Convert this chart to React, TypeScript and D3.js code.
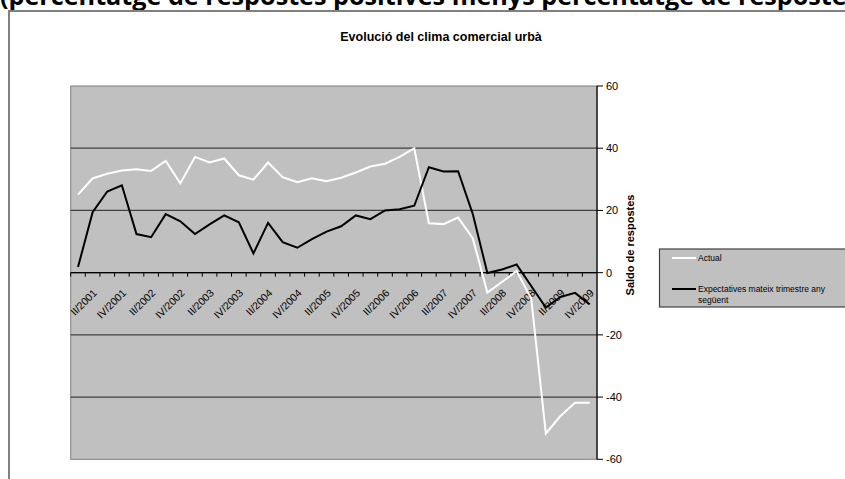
import React from "react";
import * as d3 from "d3";

const categories: string[] = [];
const years = [2001, 2002, 2003, 2004, 2005, 2006, 2007, 2008, 2009];
const quarters = ["I", "II", "III", "IV"];
years.forEach((y) => quarters.forEach((q) => categories.push(`${q}/${y}`)));

const actual = [
  25.1, 30.3, 31.8, 32.8, 33.2, 32.7, 35.9, 28.7, 37.2, 35.4, 36.7, 31.3,
  29.9, 35.4, 30.7, 29.1, 30.3, 29.4, 30.5, 32.2, 34.1, 35.0, 37.2, 40.0,
  15.9, 15.6, 17.7, 11.1, -6.4, -3.0, 0.5, -8.3, -51.7, -46.1, -41.8, -41.8,
];
const expectatives = [
  1.8, 19.4, 26.1, 28.1, 12.4, 11.4, 18.8, 16.5, 12.4, 15.5, 18.4, 16.2,
  6.2, 16.0, 9.8, 8.0, 10.8, 13.2, 14.9, 18.4, 17.2, 20.0, 20.4, 21.5,
  33.9, 32.5, 32.6, 18.9, -0.1, 1.0, 2.6, -4.3, -11.2, -7.8, -6.5, -10.2,
];
const yTicks = [60, 40, 20, 0, -20, -40, -60];
const seriesNames = ["Actual", "Expectatives mateix trimestre any", "següent"];

export default function App() {
  const W = 845, H = 479;
  const plot = { left: 70.7, right: 597, top: 86, bottom: 459.3 };
  const x = d3.scaleBand<string>().domain(categories).range([plot.left, plot.right]).padding(0);
  const y = d3.scaleLinear().domain([-60, 60]).range([plot.bottom, plot.top]);
  const cx = (i: number) => (x(categories[i]) as number) + x.bandwidth() / 2;
  const line = d3.line<number>().x((_, i) => cx(i)).y((d) => y(d));
  const y0 = y(0);
  const arial = "'Liberation Sans', Arial, sans-serif";

  return (
    <svg width={W} height={H} style={{ position: "absolute", left: 0, top: 0 }}>
      <rect x={0} y={0} width={W} height={H} fill="#fff" />
      <text x={0} y={5} fontFamily="'Open Sans', sans-serif" fontWeight={700} fontSize={25.2} fill="#000">
        (percentatge de respostes positives menys percentatge de respostes negatives)
      </text>
      {/* chart frame */}
      <rect x={9} y={11} width={870} height={480} fill="#fff" stroke="#808080" strokeWidth={2} />
      <text x={441} y={40.5} textAnchor="middle" fontFamily={arial} fontWeight={700} fontSize={12.5} fill="#000">
        Evolució del clima comercial urbà
      </text>
      {/* plot area */}
      <rect x={plot.left} y={plot.top} width={plot.right - plot.left} height={plot.bottom - plot.top} fill="#c0c0c0" stroke="#808080" strokeWidth={1} />
      {yTicks.filter((t) => t !== 60 && t !== -60).map((t) => (
        <line key={t} x1={plot.left} x2={plot.right} y1={y(t)} y2={y(t)} stroke="#404040" strokeWidth={1.2} />
      ))}
      {/* category axis at zero */}
      <line x1={plot.left} x2={plot.right} y1={y0} y2={y0} stroke="#000" strokeWidth={1.2} />
      {categories.map((c, i) => (
        <line key={"t" + i} x1={x(c) as number} x2={x(c) as number} y1={y0} y2={y0 + 4} stroke="#000" strokeWidth={1} />
      ))}
      {categories.map((c, i) =>
        i % 2 === 1 ? (
          <text
            key={"l" + i}
            transform={`translate(${cx(i) + 5},${y0 + 21}) rotate(-45)`}
            textAnchor="end"
            fontFamily={arial}
            fontSize={10.5}
            fill="#000"
          >
            {c}
          </text>
        ) : null
      )}
      {/* series */}
      <path d={line(actual) as string} fill="none" stroke="#fff" strokeWidth={2} strokeLinejoin="miter" />
      <path d={line(expectatives) as string} fill="none" stroke="#000" strokeWidth={2} strokeLinejoin="miter" />
      {/* right value axis */}
      <line x1={plot.right} x2={plot.right} y1={plot.top} y2={plot.bottom} stroke="#000" strokeWidth={1.2} />
      {yTicks.map((t) => (
        <g key={"y" + t}>
          <line x1={plot.right} x2={plot.right + 6} y1={y(t)} y2={y(t)} stroke="#000" strokeWidth={1} />
          <text x={plot.right + 9} y={y(t)} dy="0.35em" fontFamily={arial} fontSize={11} fill="#000">
            {t}
          </text>
        </g>
      ))}
      <text transform={`translate(634,245) rotate(-90)`} textAnchor="middle" fontFamily={arial} fontWeight={700} fontSize={11} fill="#000">
        Saldo de respostes
      </text>
      {/* legend */}
      <rect x={659.5} y={249} width={200} height={58} fill="#c0c0c0" stroke="#404040" strokeWidth={1.2} />
      <line x1={672} x2={696} y1={258} y2={258} stroke="#fff" strokeWidth={2} />
      <text x={698} y={258} dy="0.35em" fontFamily={arial} fontSize={8.5} fill="#000">{seriesNames[0]}</text>
      <line x1={672} x2={696} y1={289} y2={289} stroke="#000" strokeWidth={2} />
      <text x={698} y={289} dy="0.35em" fontFamily={arial} fontSize={8.5} fill="#000">{seriesNames[1]}</text>
      <text x={698} y={300} dy="0.35em" fontFamily={arial} fontSize={8.5} fill="#000">{seriesNames[2]}</text>
    </svg>
  );
}
